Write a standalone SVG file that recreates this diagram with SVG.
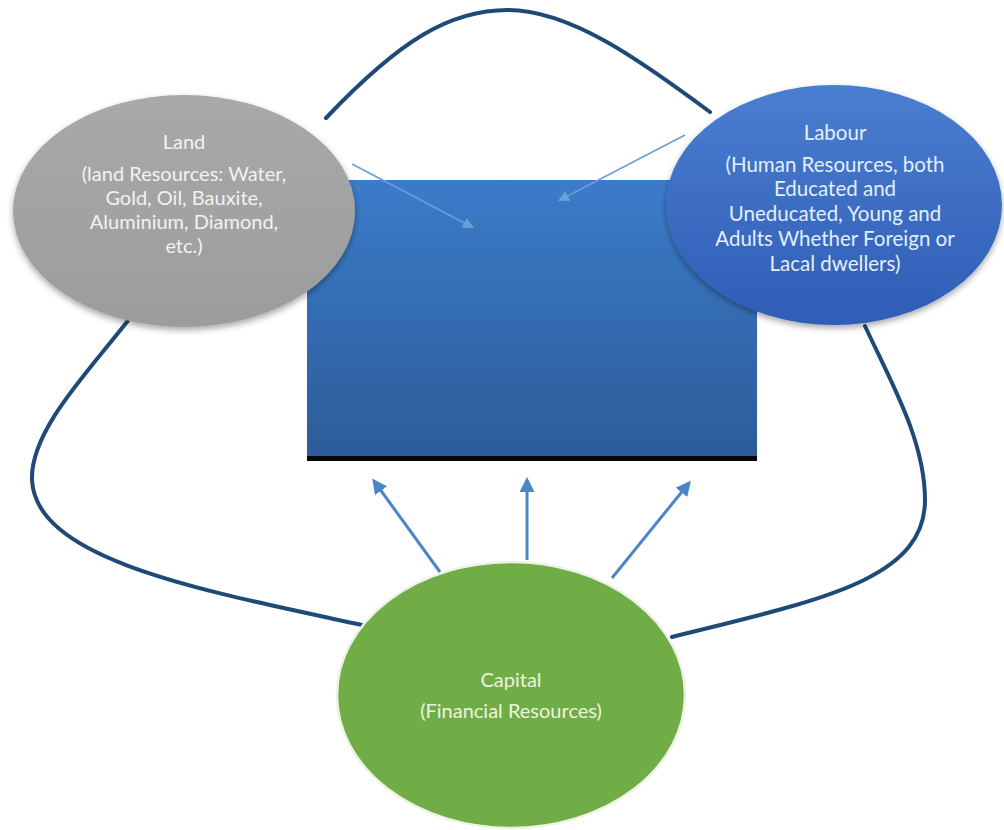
<svg xmlns="http://www.w3.org/2000/svg" width="1004" height="830" viewBox="0 0 1004 830">
  <defs>
    <linearGradient id="gRect" x1="0" y1="0" x2="0" y2="1">
      <stop offset="0" stop-color="#3b7cca"/>
      <stop offset="1" stop-color="#2d5b98"/>
    </linearGradient>
    <linearGradient id="gLabour" x1="0" y1="0" x2="0" y2="1">
      <stop offset="0" stop-color="#4a7ed0"/>
      <stop offset="1" stop-color="#2f5db6"/>
    </linearGradient>
    <linearGradient id="gLand" x1="0" y1="0" x2="0" y2="1">
      <stop offset="0" stop-color="#a9a9a9"/>
      <stop offset="1" stop-color="#9c9c9c"/>
    </linearGradient>
    <filter id="shadow" x="-10%" y="-10%" width="120%" height="125%">
      <feDropShadow dx="0" dy="3" stdDeviation="3" flood-color="#000" flood-opacity="0.35"/>
    </filter>
    <marker id="arrowBlue" viewBox="0 0 10 10" refX="8" refY="5" markerWidth="5" markerHeight="5" orient="auto" markerUnits="strokeWidth">
      <path d="M0,0 L10,5 L0,10 z" fill="#4a86c8"/>
    </marker>
    <marker id="arrowFaint" viewBox="0 0 10 10" refX="8" refY="5" markerWidth="7" markerHeight="7" orient="auto" markerUnits="strokeWidth">
      <path d="M0,0 L10,5 L0,10 z" fill="#6a9fd8"/>
    </marker>
  </defs>
  <style>
    .loop { fill: none; stroke: #1f4a78; stroke-width: 4; stroke-linecap: round; }
    .arr { fill: none; stroke: #4a86c8; stroke-width: 3; marker-end: url(#arrowBlue); }
    .faint { fill: none; stroke: #6a9fd8; stroke-width: 1.6; marker-end: url(#arrowFaint); }
    .t { font-family: Lato, "Open Sans", "Liberation Sans", sans-serif; font-size: 20px; text-anchor: middle; }
    .tLand { fill: #f2f2f2; }
    .tLabour { fill: #e4eefa; font-size: 20.5px; }
    .tCap { fill: #eef4dc; }
  </style>
  <rect width="1004" height="830" fill="#ffffff"/>

  <g id="connectors">
    <path class="loop" d="M326,118 C400,40 450,10 508,10 C570,10 640,60 710,112"/>
    <path class="loop" d="M130,318 C90,370 30,430 32,480 C36,560 200,590 362,625"/>
    <path class="loop" d="M865,326 C890,380 925,440 925,500 C925,580 820,600 672,637"/>
  </g>

  <g id="center-box">
    <rect x="307" y="180" width="450" height="278" fill="url(#gRect)"/>
    <rect x="307" y="456" width="450" height="5" fill="#05070c"/>
  </g>

  <g id="land" filter="url(#shadow)">
    <ellipse cx="184" cy="211" rx="171" ry="116" fill="url(#gLand)"/>
  </g>
  <g id="land-text">
    <text class="t tLand" x="184" y="149">Land</text>
    <text class="t tLand" x="184" y="181">(land Resources: Water,</text>
    <text class="t tLand" x="184" y="205">Gold, Oil, Bauxite,</text>
    <text class="t tLand" x="184" y="229">Aluminium, Diamond,</text>
    <text class="t tLand" x="184" y="253">etc.)</text>
  </g>

  <g id="labour" filter="url(#shadow)">
    <ellipse cx="834" cy="205" rx="168" ry="120" fill="url(#gLabour)"/>
  </g>
  <g id="labour-text">
    <text class="t tLabour" x="835" y="140">Labour</text>
    <text class="t tLabour" x="835" y="172">(Human Resources, both</text>
    <text class="t tLabour" x="835" y="196">Educated and</text>
    <text class="t tLabour" x="835" y="221">Uneducated, Young and</text>
    <text class="t tLabour" x="835" y="246">Adults Whether Foreign or</text>
    <text class="t tLabour" x="835" y="271">Lacal dwellers)</text>
  </g>

  <g id="faint-arrows">
    <path class="faint" d="M352,164 L472,227"/>
    <path class="faint" d="M685,135 L560,200"/>
  </g>

  <g id="capital">
    <ellipse cx="511" cy="695" rx="174" ry="133" fill="#70ad47" stroke="#eef2e4" stroke-width="2.5"/>
    <text class="t tCap" x="511" y="687">Capital</text>
    <text class="t tCap" x="511" y="718">(Financial Resources)</text>
  </g>

  <g id="capital-arrows">
    <path class="arr" d="M440,572 L374,481"/>
    <path class="arr" d="M527,560 L527,480"/>
    <path class="arr" d="M612,578 L689,483"/>
  </g>
</svg>
